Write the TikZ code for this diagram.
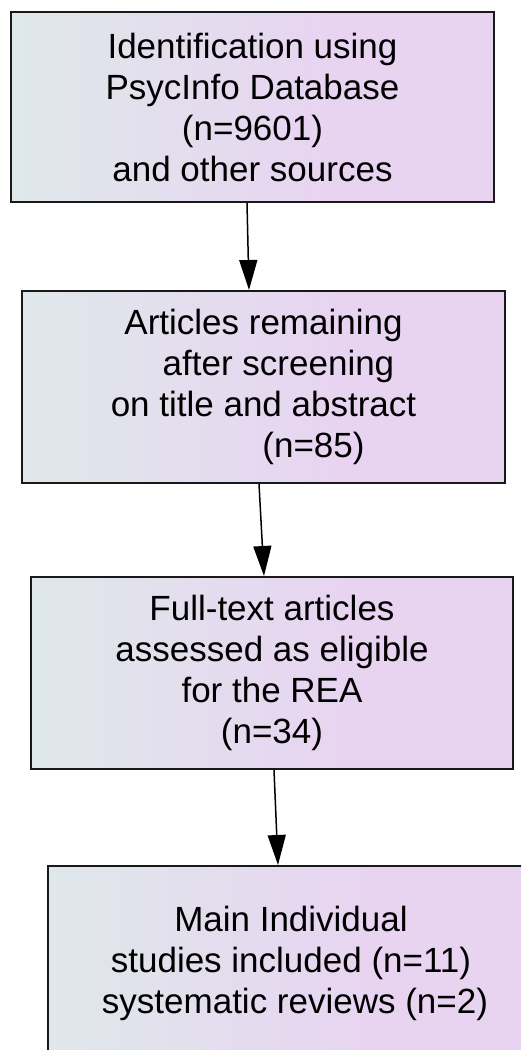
\documentclass[tikz,border=0pt]{standalone}
\usepackage{fontspec}
\setmainfont{Liberation Sans}
\usetikzlibrary{arrows.meta}
\definecolor{cL}{RGB}{223,232,234}
\definecolor{cR}{RGB}{232,212,241}
\definecolor{edge}{RGB}{25,25,25}
\pgfdeclarehorizontalshading{boxshade}{100bp}{color(0bp)=(cL); color(25bp)=(cL); color(58bp)=(cR); color(100bp)=(cR)}
\begin{document}
\begin{tikzpicture}[x=1pt,y=-1pt,
  flowbox/.style={draw=edge, line width=2pt, shading=boxshade, rectangle,
    inner sep=0pt, align=center, font=\fontsize{35}{41}\selectfont},
  arr/.style={line width=1.5pt, -{Triangle[length=30pt,width=18pt]}}]
\useasboundingbox (0,0) rectangle (521,1050);
\clip (0,0) rectangle (521,1050);
\node[flowbox, minimum width=483pt, minimum height=190pt] (b1) at (252.5,107)
  {Identification using\\PsycInfo Database\\(n=9601)\\and other sources};
\node[flowbox, minimum width=483pt, minimum height=192pt] (b2) at (263.5,387)
  {Articles remaining\\\hspace*{30pt}after screening\\on title and abstract\\\hspace*{100pt}(n=85)};
\node[flowbox, minimum width=482pt, minimum height=192pt] (b3) at (272,673)
  {Full-text articles\\assessed as eligible\\for the REA\\(n=34)};
\node[flowbox, minimum width=486pt, minimum height=194pt] (b4) at (291,963)
  {Main Individual\\studies included (n=11)\\\hspace*{8pt}systematic reviews (n=2)};
\draw[arr] ([xshift=-5.5pt]b1.south) -- ([xshift=-14.5pt]b2.north);
\draw[arr] ([xshift=-4.5pt]b2.south) -- ([xshift=-8pt]b3.north);
\draw[arr] ([xshift=2pt]b3.south) -- ([xshift=-13pt]b4.north);
\end{tikzpicture}
\end{document}
